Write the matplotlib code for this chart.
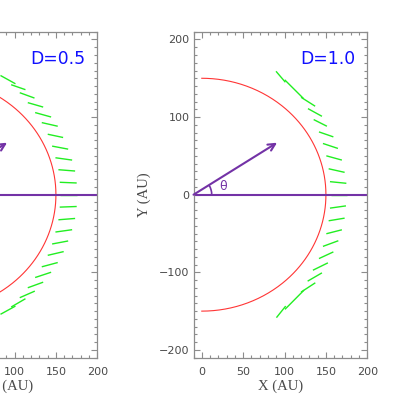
import numpy as np
import matplotlib
matplotlib.use("Agg")
import matplotlib.pyplot as plt
from matplotlib.patches import Arc
from matplotlib.ticker import MultipleLocator

# ---------------- data ----------------
circle_radius = 150.0
arrow_start = (-10.0, 0.0)
arrow_tip = (91.0, 67.0)
x_ticks = [0, 50, 100, 150, 200]
y_ticks = [-200, -100, 0, 100, 200]
panel_labels = ["D=0.5", "D=1.0"]

# green vectors, D=0.5 panel (x1, y1, x2, y2)
d05_x1 = [83.0, 95.9, 106.3, 116.0, 124.9, 132.9, 140.1, 145.4, 149.4, 153.0, 154.6, 155.5,
          154.6, 153.0, 149.4, 145.4, 140.1, 132.9, 124.9, 116.0, 106.3, 95.9, 83.0]
d05_y1 = [153.6, 141.7, 131.4, 118.6, 105.8, 92.9, 77.9, 62.6, 47.6, 32.2, 16.0, 0.0,
          -16.0, -32.3, -48.1, -63.5, -78.1, -92.9, -106.7, -119.9, -132.7, -144.7, -154.1]
d05_x2 = [101.1, 113.2, 124.1, 134.6, 144.2, 152.2, 158.7, 164.8, 169.6, 173.2, 175.1, 175.6,
          175.1, 173.2, 169.6, 164.8, 159.4, 152.2, 144.2, 134.6, 124.5, 113.2, 101.1]
d05_y2 = [142.9, 135.3, 124.5, 112.9, 100.1, 88.2, 73.7, 58.7, 44.6, 30.5, 15.1, 0.0,
          -15.2, -30.6, -45.1, -59.6, -73.3, -87.4, -99.9, -112.7, -124.2, -134.0, -143.5]

# green vectors, D=1.0 panel (x1, y1, x2, y2)
d10_x1 = [89.7, 100.2, 120.0, 128.3, 135.2, 141.6, 146.4, 150.5, 153.3, 154.9, 156.5,
          154.9, 153.3, 150.5, 146.4, 141.6, 134.3, 127.9, 119.9, 100.5, 90.2]
d10_y1 = [159.0, 148.0, 125.5, 110.9, 96.8, 80.9, 66.0, 50.1, 33.4, 16.8, 0.0,
          -17.3, -33.6, -50.3, -66.6, -82.3, -97.3, -111.4, -125.5, -147.7, -158.4]
d10_x2 = [101.0, 123.1, 137.0, 145.2, 151.2, 159.0, 164.5, 169.3, 172.6, 174.7, 175.9,
          174.2, 172.6, 169.3, 165.0, 159.0, 152.4, 145.2, 137.2, 123.5, 101.4]
d10_y2 = [144.9, 123.7, 114.0, 101.0, 88.2, 74.5, 59.6, 44.6, 28.8, 14.7, 0.0,
          -14.4, -30.2, -45.2, -59.3, -73.7, -87.8, -100.7, -113.5, -123.0, -143.5]

# ---------------- style ----------------
PURPLE = "#7332a6"
GREEN = "#22ee22"
RED = "#ff3535"
BLUE = "#1010ff"
AXCOL = "#8c8c8c"
TXTCOL = "#4a4a4a"

W, H = 398, 394
fig = plt.figure(figsize=(W / 100, H / 100), dpi=100)

ax_w = 173.8 / W
ax_h = 326.0 / H
ax_b = (H - 357.7) / H
lefts = [(97.3 - 173.8) / W, 193.5 / W]

segs = [(d05_x1, d05_y1, d05_x2, d05_y2), (d10_x1, d10_y1, d10_x2, d10_y2)]

for i, left in enumerate(lefts):
    ax = fig.add_axes([left, ax_b, ax_w, ax_h])
    ax.set_xlim(-10, 200)
    ax.set_ylim(-210, 210)
    for s in ax.spines.values():
        s.set_color(AXCOL)
        s.set_linewidth(0.9)
    ax.set_xticks(x_ticks)
    ax.set_yticks(y_ticks)
    ax.xaxis.set_minor_locator(MultipleLocator(10))
    ax.yaxis.set_minor_locator(MultipleLocator(10))
    ax.tick_params(which="both", direction="in", top=True, right=True, color=AXCOL, width=0.8)
    ax.tick_params(which="major", length=4.0)
    ax.tick_params(which="minor", length=2.0)
    ax.tick_params(axis="x", which="major", pad=6.5, labelsize=8, labelcolor=TXTCOL)
    ax.tick_params(axis="y", which="major", pad=3, labelsize=8, labelcolor=TXTCOL)
    ax.set_yticklabels([("\u2212" + str(-v)) if v < 0 else str(v) for v in y_ticks])
    ax.set_xlabel("X (AU)", family="Liberation Serif", fontsize=10.5, color=TXTCOL, labelpad=2)
    ax.set_ylabel("Y (AU)", family="Liberation Serif", fontsize=10.5, color=TXTCOL, labelpad=5.5)

    # red circle (semicircle)
    th = np.linspace(-np.pi / 2, np.pi / 2, 400)
    ax.plot(circle_radius * np.cos(th), circle_radius * np.sin(th), color=RED, lw=0.8)

    # green vectors
    x1, y1, x2, y2 = segs[i]
    for a, b, c, d in zip(x1, y1, x2, y2):
        ax.plot([a, c], [b, d], color=GREEN, lw=1.0, solid_capstyle="butt")

    # purple line of sight and arrow
    ax.plot([arrow_start[0], 200], [0, 0], color=PURPLE, lw=1.5, solid_capstyle="butt")
    ax.annotate("", xy=arrow_tip, xytext=arrow_start,
                arrowprops=dict(arrowstyle="->,head_length=0.5,head_width=0.25",
                                color=PURPLE, lw=1.5, shrinkA=0, shrinkB=0))
    ang = np.degrees(np.arctan2(arrow_tip[1] - arrow_start[1], arrow_tip[0] - arrow_start[0]))
    ax.add_patch(Arc(arrow_start, 44, 47, theta1=0, theta2=ang, color=PURPLE, lw=1.2))
    ax.text(25.3, 10.4, "\u03b8", color=PURPLE, fontsize=9, ha="center", va="center")

    ax.text(0.93, 0.915, panel_labels[i], transform=ax.transAxes, color=BLUE,
            fontsize=12.4, ha="right", va="center")

fig.savefig("out.png", dpi=100)
